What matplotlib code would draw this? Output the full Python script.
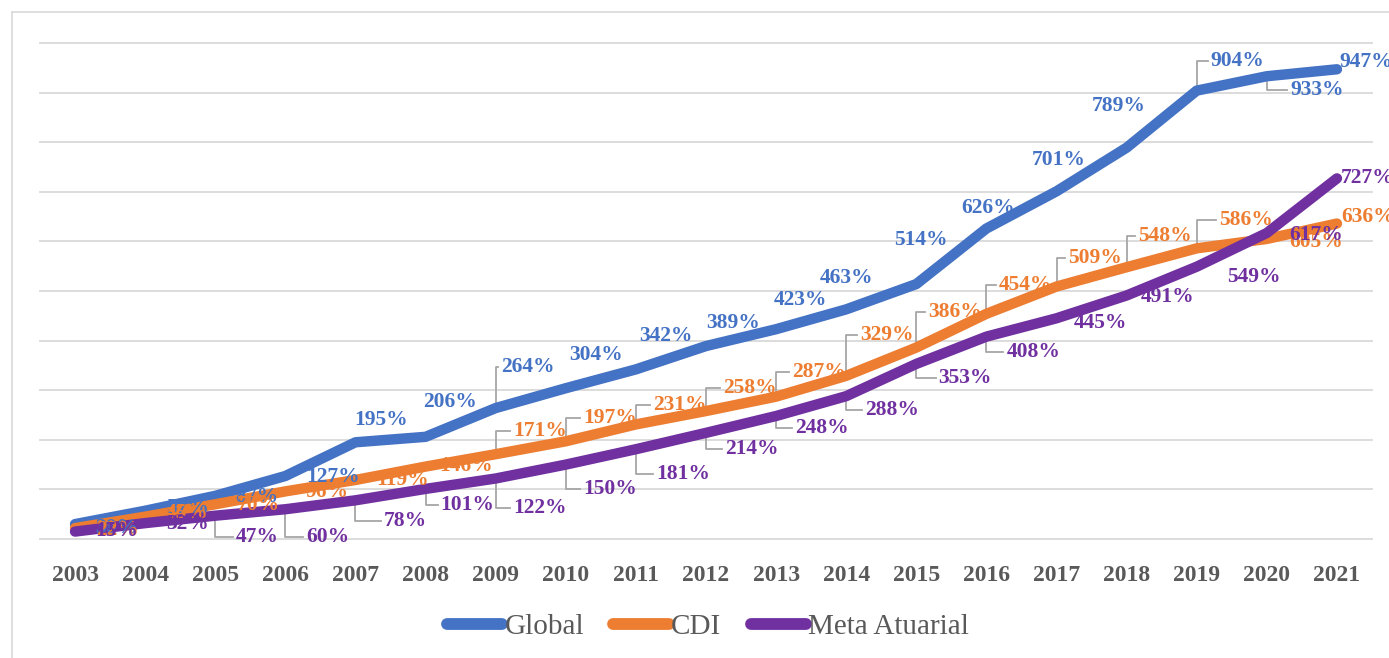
import numpy as np
import matplotlib
matplotlib.use("Agg")
import matplotlib.pyplot as plt
from matplotlib.lines import Line2D

plt.rcParams['font.family'] = ['Liberation Serif', 'DejaVu Serif']

anos = ['2003', '2004', '2005', '2006', '2007', '2008', '2009', '2010', '2011', '2012',
        '2013', '2014', '2015', '2016', '2017', '2018', '2019', '2020', '2021']
glob = [30, 57, 87, 127, 195, 206, 264, 304, 342, 389, 423, 463, 514, 626, 701, 789, 904, 933, 947]
cdi = [22, 45, 70, 96, 119, 146, 171, 197, 231, 258, 287, 329, 386, 454, 509, 548, 586, 605, 636]
meta = [15, 32, 47, 60, 78, 101, 122, 150, 181, 214, 248, 288, 353, 408, 445, 491, 549, 617, 727]

# deslocamento dos rotulos (pixels, x para direita, y para cima)
off_glob = [(42, -4), (42, 3), (42, -1), (48, -1), (26, 22), (24, 35), (32, 41), (30, 33),
            (30, 33), (27, 23), (24, 29), (0, 31), (5, 44), (2, 21), (2, 31), (-8, 42),
            (41, 30), (50, -14), (29, 7)]
off_cdi = [(42, -2), (42, 4), (43, -1), (42, -1), (47, 0), (40, 1), (44, 23), (44, 23),
           (44, 19), (44, 23), (43, 25), (41, 41), (39, 36), (39, 29), (38, 29), (38, 31),
           (49, 28), (49, -3), (31, 7)]
off_meta = [(42, 1), (42, -1), (42, -21), (42, -28), (50, -21), (42, -16), (44, -30), (44, -24),
            (47, -25), (46, -16), (46, -12), (46, -14), (49, -14), (47, -15), (44, -5), (41, -2),
            (57, -10), (49, -2), (31, 0)]

c_glob = '#4472C4'
c_cdi = '#ED7D31'
c_meta = '#7030A0'
cinza = '#595959'

W, H = 1389, 658
fig = plt.figure(figsize=(W / 100, H / 100), dpi=100)
ax = fig.add_axes([40 / W, (H - 539) / H, (1372 - 40) / W, (539 - 43) / H])

x = np.arange(len(anos))
ax.set_xlim(-0.5, len(anos) - 0.5)
ax.set_ylim(0, 1000)

for g in range(0, 1001, 100):
    ax.axhline(g, color='#D9D9D9', lw=1.3, zorder=0, clip_on=False)

series = [(glob, c_glob, 'Global', off_glob),
          (cdi, c_cdi, 'CDI', off_cdi),
          (meta, c_meta, 'Meta Atuarial', off_meta)]

for vals, cor, nome, _ in series:
    ax.plot(x, vals, color=cor, lw=7.5, solid_capstyle='round', solid_joinstyle='round',
            label=nome, zorder=3)

textos = []
for vals, cor, nome, offs in series:
    for i, v in enumerate(vals):
        t = ax.annotate(f'{v}%', (i, v), xytext=offs[i], textcoords='offset pixels',
                        ha='center', va='center', color=cor, fontsize=15.5,
                        fontweight='bold', zorder=4, annotation_clip=False)
        textos.append((t, i, v))

for s in ax.spines.values():
    s.set_visible(False)
ax.set_yticks([])
ax.set_xticks(x)
ax.set_xticklabels(anos, fontsize=17, fontweight='bold', color=cinza)
ax.tick_params(axis='x', length=0, pad=19)

leg = ax.legend(loc='center', bbox_to_anchor=(708 / W, 1 - 627 / H),
                bbox_transform=fig.transFigure, ncol=3, frameon=False,
                handlelength=1.9, handletextpad=0.08, columnspacing=1.0,
                prop={'family': 'Liberation Serif', 'size': 21})
for txt in leg.get_texts():
    txt.set_color(cinza)
for ln in leg.get_lines():
    ln.set_linewidth(8.5)
    ln.set_solid_capstyle('round')

# linhas de chamada (leader lines)
fig.canvas.draw()
r = fig.canvas.get_renderer()
inv = ax.transData.inverted()
for t, i, v in textos:
    bb = t.get_window_extent(r)
    px, py = ax.transData.transform((i, v))
    cy = (bb.y0 + bb.y1) / 2
    if bb.x0 - px > 4 and abs(cy - py) > 10:
        pts = inv.transform([(px, py), (px, cy), (bb.x0 - 3, cy)])
        ax.plot(pts[:, 0], pts[:, 1], color='#A6A6A6', lw=1.3, zorder=2, clip_on=False)

# borda da area do grafico
fig.add_artist(Line2D([12 / W, 1], [1 - 12 / H, 1 - 12 / H], color='#D9D9D9', lw=1.2))
fig.add_artist(Line2D([12 / W, 12 / W], [0, 1 - 12 / H], color='#D9D9D9', lw=1.2))

fig.savefig('out.png', dpi=100, facecolor='white')
